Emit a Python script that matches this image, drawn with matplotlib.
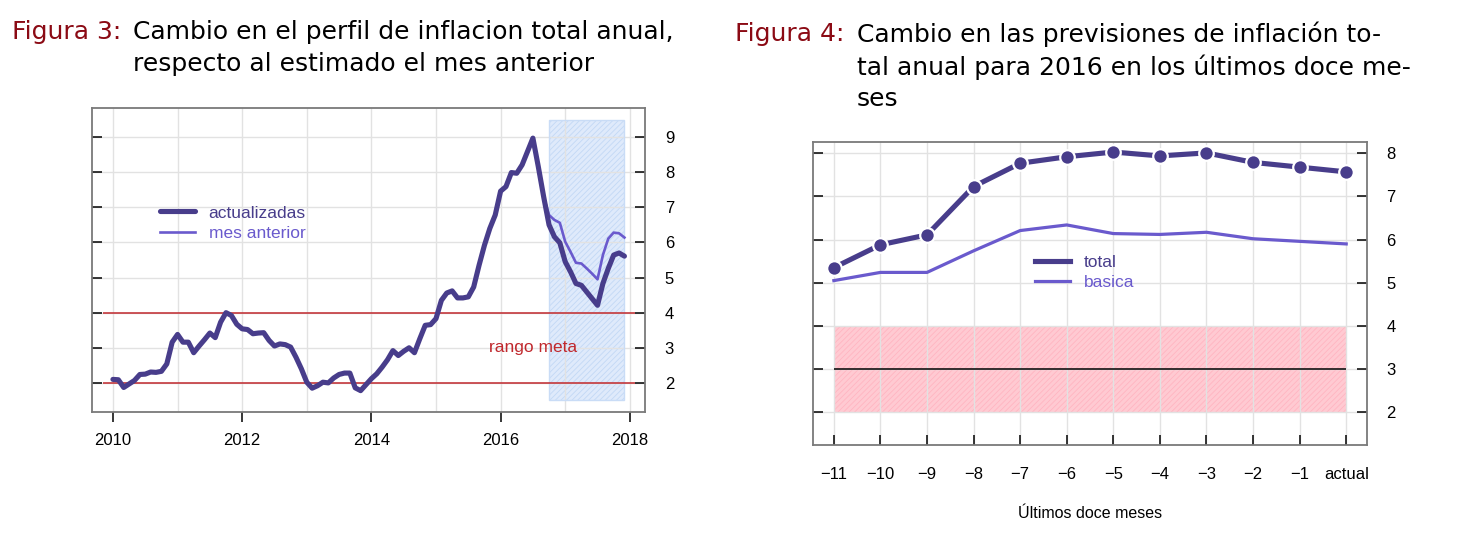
import matplotlib
matplotlib.use("Agg")
import matplotlib.pyplot as plt
from matplotlib.patches import Rectangle
from matplotlib.lines import Line2D
import numpy as np

plt.rcParams['font.family'] = ['Liberation Sans', 'DejaVu Sans']
plt.rcParams['hatch.linewidth'] = 0.6

# ---------------- data: Figura 3 ----------------
start_year = 2010
actualizadas = [
    2.10, 2.09, 1.87, 1.97, 2.07, 2.24, 2.25, 2.31, 2.30, 2.33, 2.54, 3.16,
    3.38, 3.16, 3.16, 2.86, 3.05, 3.23, 3.42, 3.29, 3.73, 4.00, 3.92, 3.67,
    3.54, 3.52, 3.40, 3.42, 3.43, 3.21, 3.05, 3.11, 3.09, 3.02, 2.73, 2.40,
    2.02, 1.85, 1.92, 2.02, 2.00, 2.14, 2.24, 2.28, 2.28, 1.86, 1.78, 1.95,
    2.12, 2.26, 2.45, 2.66, 2.92, 2.78, 2.90, 3.00, 2.86, 3.26, 3.64, 3.66,
    3.83, 4.35, 4.56, 4.62, 4.42, 4.42, 4.45, 4.73, 5.35, 5.92, 6.40, 6.78,
    7.46, 7.59, 7.99, 7.97, 8.21, 8.59, 8.97, 8.16, 7.30, 6.50, 6.16, 5.99,
    5.45, 5.16, 4.83, 4.78, 4.59, 4.40, 4.21, 4.83, 5.26, 5.64, 5.70, 5.61,
]
mes_anterior_start = 80  # month index where the previous-month estimate begins
mes_anterior = [7.30, 6.78, 6.64, 6.56, 6.02, 5.73, 5.42, 5.40, 5.26, 5.11,
                4.95, 5.64, 6.11, 6.28, 6.26, 6.14]
forecast_start_month = 81
rango_meta = [2, 4]
rect_y = [1.5, 9.5]
x_ticks_3 = [2010, 2012, 2014, 2016, 2018]
y_ticks_3 = [2, 3, 4, 5, 6, 7, 8, 9]

# ---------------- data: Figura 4 ----------------
meses_labels = ['\u221211', '\u221210', '\u22129', '\u22128', '\u22127', '\u22126',
                '\u22125', '\u22124', '\u22123', '\u22122', '\u22121', 'actual']
total = [5.35, 5.88, 6.11, 7.23, 7.77, 7.92, 8.03, 7.94, 8.01, 7.79, 7.68, 7.57]
basica = [5.05, 5.24, 5.24, 5.74, 6.21, 6.34, 6.14, 6.12, 6.17, 6.02, 5.96, 5.90]
meta_centro = 3
y_ticks_4 = [2, 3, 4, 5, 6, 7, 8]

dark = '#483D8B'
slate = '#6A5ACD'
red = '#C0282D'
spine_c = '#7a7a7a'
grid_c = '#e2e2e2'
tick_fs = 12
leg_fs = 12.5

fig = plt.figure(figsize=(14.6, 5.42), dpi=100)

def style_axes(ax):
    for s in ax.spines.values():
        s.set_color(spine_c)
        s.set_linewidth(1.3)
    ax.grid(True, color=grid_c, lw=1.0)
    ax.set_axisbelow(True)

# ---------------- left chart ----------------
ax1 = fig.add_axes([0.0632, 0.2404, 0.3788, 0.5598])
style_axes(ax1)
months = np.arange(len(actualizadas))
xdates = start_year + months / 12.0
x_prev = start_year + (mes_anterior_start + np.arange(len(mes_anterior))) / 12.0

ax1.set_xlim(2009.68, 2018.24)
ax1.set_ylim(1.18, 9.82)

x0 = start_year + forecast_start_month / 12.0
x1 = xdates[-1]
ax1.add_patch(Rectangle((x0, rect_y[0]), x1 - x0, rect_y[1] - rect_y[0],
                        facecolor='#dfeafb', edgecolor='#c2d8f5', hatch='//////',
                        lw=0, zorder=0.4))
ax1.add_patch(Rectangle((x0, rect_y[0]), x1 - x0, rect_y[1] - rect_y[0],
                        facecolor='none', edgecolor='#c9dcf6', lw=1.0, zorder=0.6))

for v in rango_meta:
    ax1.hlines(v, 2009.84, 2018.08, color=red, lw=1.1, zorder=1)
ax1.text(2016.5, 3.0, 'rango meta', color=red, fontsize=12.5, ha='center', va='center')

h2, = ax1.plot(x_prev, mes_anterior, color=slate, lw=1.9, zorder=2,
               solid_joinstyle='round', label='mes anterior')
h1, = ax1.plot(xdates, actualizadas, color=dark, lw=3.7, zorder=3,
               solid_joinstyle='round', solid_capstyle='round', label='actualizadas')

ax1.set_xticks(x_ticks_3, minor=False)
ax1.set_xticklabels([str(t) for t in x_ticks_3])
ax1.set_xticks(np.arange(2010, 2019), minor=True)
ax1.set_yticks(y_ticks_3)
ax1.grid(True, which='minor', axis='x', color=grid_c, lw=1.0)
ax1.tick_params(axis='x', which='minor', length=0)
ax1.tick_params(axis='x', which='major', direction='out', length=7, width=1.1,
                pad=8, labelsize=tick_fs, bottom=True)
ax1.tick_params(axis='y', direction='in', length=7, width=1.1, left=True, right=True,
                labelleft=False, labelright=True, pad=14, labelsize=tick_fs)

leg1 = ax1.legend(handles=[h1, h2], loc='upper left', bbox_to_anchor=(0.1224, 0.68),
                  frameon=False, borderpad=0, borderaxespad=0, handlelength=2.0,
                  handletextpad=0.8, labelspacing=0.3, fontsize=leg_fs,
                  labelcolor='linecolor')

# ---------------- right chart ----------------
ax2 = fig.add_axes([0.5571, 0.1790, 0.3790, 0.5596])
style_axes(ax2)
idx = np.arange(len(total))
ax2.set_xlim(-0.44, 11.44)
ax2.set_ylim(1.24, 8.27)

ax2.add_patch(Rectangle((idx[0], rango_meta[0]), idx[-1] - idx[0], rango_meta[1] - rango_meta[0],
                        facecolor='#ffcad2', edgecolor='#ffb5c1', hatch='//////',
                        lw=0, zorder=0.4))
ax2.hlines(meta_centro, idx[0], idx[-1], color='black', lw=1.1, zorder=1)

ax2.plot(idx, basica, color=slate, lw=2.3, zorder=2, solid_joinstyle='round')
ax2.plot(idx, total, color=dark, lw=3.7, zorder=3, marker='o', markersize=10.5,
         markerfacecolor=dark, markeredgecolor='white', markeredgewidth=1.6,
         solid_joinstyle='round')

ax2.set_xticks(idx)
ax2.set_xticklabels(meses_labels)
ax2.set_yticks(y_ticks_4)
ax2.tick_params(axis='x', direction='in', length=7, width=1.1, pad=16, labelsize=tick_fs)
ax2.tick_params(axis='y', direction='in', length=7, width=1.1, left=True, right=True,
                labelleft=False, labelright=True, pad=14, labelsize=tick_fs)
ax2.set_xlabel('\u00daltimos doce meses', fontsize=11.5)
ax2.xaxis.set_label_coords(0.5, -0.2)

proxy_t = Line2D([], [], color=dark, lw=3.7, label='total')
proxy_b = Line2D([], [], color=slate, lw=2.3, label='basica')
leg2 = ax2.legend(handles=[proxy_t, proxy_b], loc='upper left', bbox_to_anchor=(0.4006, 0.628),
                  frameon=False, borderpad=0, borderaxespad=0, handlelength=2.0,
                  handletextpad=0.8, labelspacing=0.32, fontsize=leg_fs,
                  labelcolor='linecolor')

# ---------------- titles ----------------
tfont = ['DejaVu Sans']
tsize = 18
tred = '#8B0A14'
fig.text(12 / 1460, 1 - 32 / 542, 'Figura 3:', color=tred, fontsize=tsize,
         family=tfont, va='center', ha='left')
fig.text(133 / 1460, 1 - 32 / 542, 'Cambio en el perfil de inflacion total anual,',
         color='black', fontsize=tsize, family=tfont, va='center', ha='left')
fig.text(133 / 1460, 1 - 64 / 542, 'respecto al estimado el mes anterior',
         color='black', fontsize=tsize, family=tfont, va='center', ha='left')

fig.text(735 / 1460, 1 - 34 / 542, 'Figura 4:', color=tred, fontsize=tsize,
         family=tfont, va='center', ha='left')
fig.text(857 / 1460, 1 - 34 / 542, 'Cambio en las previsiones de inflación to-',
         color='black', fontsize=tsize, family=tfont, va='center', ha='left')
fig.text(857 / 1460, 1 - 67 / 542, 'tal anual para 2016 en los últimos doce me-',
         color='black', fontsize=tsize, family=tfont, va='center', ha='left')
fig.text(857 / 1460, 1 - 99 / 542, 'ses',
         color='black', fontsize=tsize, family=tfont, va='center', ha='left')

fig.savefig('out.png', dpi=100)
